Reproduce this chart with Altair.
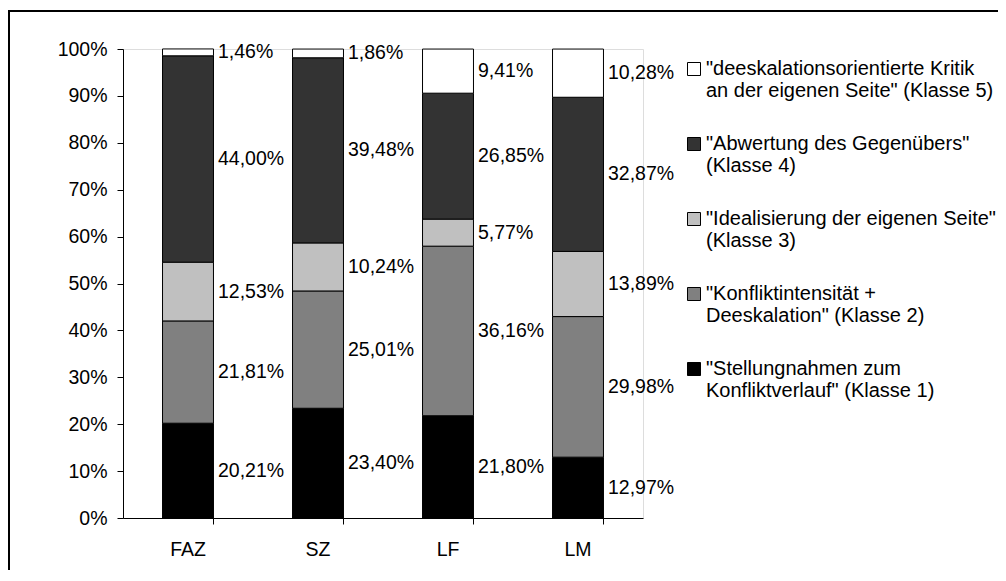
import altair as alt
import pandas as pd

papers = ["FAZ", "SZ", "LF", "LM"]
classes = [
    '"Stellungnahmen zum\nKonfliktverlauf" (Klasse 1)',
    '"Konfliktintensität +\nDeeskalation" (Klasse 2)',
    '"Idealisierung der eigenen Seite"\n(Klasse 3)',
    '"Abwertung des Gegenübers"\n(Klasse 4)',
    '"deeskalationsorientierte Kritik\nan der eigenen Seite" (Klasse 5)',
]
faz = [20.21, 21.81, 12.53, 44.00, 1.46]
sz = [23.40, 25.01, 10.24, 39.48, 1.86]
lf = [21.80, 36.16, 5.77, 26.85, 9.41]
lm = [12.97, 29.98, 13.89, 32.87, 10.28]
colors = ["#000000", "#808080", "#c0c0c0", "#333333", "#ffffff"]
y_ticks = [0, 10, 20, 30, 40, 50, 60, 70, 80, 90, 100]

rows = []
for paper, vals in zip(papers, [faz, sz, lf, lm]):
    cum = 0.0
    for i, (cls, v) in enumerate(zip(classes, vals)):
        rows.append({
            "paper": paper, "cls": cls, "order": i, "value": v,
            "start": cum, "end": cum + v, "mid": cum + v / 2,
            "label": f"{v:.2f}".replace(".", ",") + "%",
        })
        cum += v
df = pd.DataFrame(rows)

FONT = "Liberation Sans"
FS = 19.5
LFS = 20

x_scale = alt.Scale(domain=papers, paddingInner=0.608, paddingOuter=0.304)
y_scale = alt.Scale(domain=[0, 100], nice=False)

bars = alt.Chart(df).mark_bar(stroke="black", strokeWidth=1).encode(
    x=alt.X("paper:N", scale=x_scale, sort=papers, title=None,
            axis=alt.Axis(labelAngle=0, ticks=False, tickSize=0, labelPadding=22,
                          labelFont=FONT, labelFontSize=FS, labelColor="black",
                          domainColor="black", orient="bottom")),
    y=alt.Y("start:Q", scale=y_scale, title=None,
            axis=alt.Axis(values=y_ticks, labelExpr="datum.value + '%'",
                          labelFont=FONT, labelFontSize=FS, labelColor="black",
                          tickSize=6, tickColor="black", domainColor="black",
                          labelPadding=10, grid=False)),
    y2="end:Q",
    fill=alt.Fill("cls:N", scale=alt.Scale(domain=classes[::-1], range=colors[::-1]),
                  legend=alt.Legend(title=None, orient="none", legendX=561, legendY=10,
                                    labelExpr="split(datum.label, '\\n')",
                                    labelFont=FONT, labelFontSize=LFS, labelColor="black",
                                    symbolType="square", symbolSize=169,
                                    symbolStrokeColor="black", symbolStrokeWidth=1,
                                    labelOffset=2, rowPadding=33, labelLimit=400,
                                    labelBaseline="middle")),
    order=alt.Order("order:Q"),
)

labels = alt.Chart(df).mark_text(align="left", baseline="middle", dx=30,
                                 font=FONT, fontSize=FS, color="black").encode(
    x=alt.X("paper:N", scale=x_scale, sort=papers, title=None,
            axis=alt.Axis(bandPosition=1, labels=False, domain=False, ticks=True,
                          tickSize=6, tickColor="black", orient="bottom")),
    y=alt.Y("mid:Q", scale=y_scale),
    text="label:N",
)

border = alt.Chart(df).mark_rect(fill=None, stroke="black", strokeWidth=1.2).encode(
    x=alt.value(-114), x2=alt.value(1000), y=alt.value(-38), y2=alt.value(700),
)

chart = alt.layer(border, bars, labels).resolve_axis(x="independent").properties(
    width=520, height=469,
    autosize=alt.AutoSizeParams(type="none"),
    padding={"left": 115, "top": 41, "right": 355, "bottom": 52},
).configure_view(stroke=None).configure(background="white")

chart.save("out.html", embed_options={"renderer": "svg", "actions": False})
